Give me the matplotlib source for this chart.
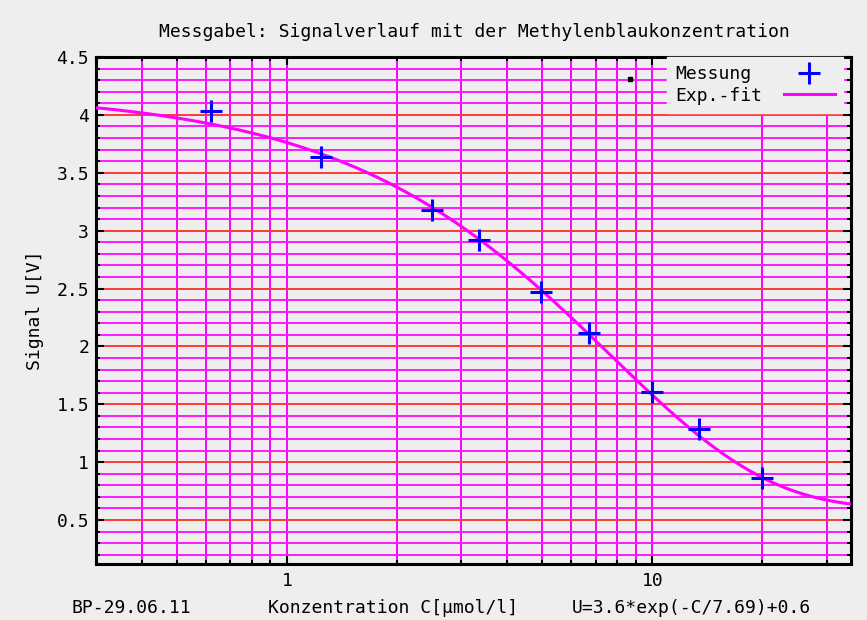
import matplotlib
matplotlib.use("Agg")
import matplotlib.pyplot as plt
from matplotlib.ticker import LogLocator, FixedLocator, MultipleLocator, FormatStrFormatter, NullFormatter
import numpy as np

# measured points
conc = [0.62, 1.24, 2.49, 3.35, 4.97, 6.73, 10.0, 13.4, 20.0]
signal = [4.03, 3.64, 3.18, 2.92, 2.47, 2.12, 1.61, 1.29, 0.86]

# fit parameters, U = a*exp(-C/tau) + u0
fit_a = 3.6
fit_tau = 7.69
fit_u0 = 0.6

title = "Messgabel: Signalverlauf mit der Methylenblaukonzentration"
xlabel = "Konzentration C[µmol/l]"
ylabel = "Signal U[V]"
note_left = "BP-29.06.11"
note_right = "U=3.6*exp(-C/7.69)+0.6"

bg = "#eeeeee"
font = "DejaVu Sans Mono"
fs = 13

fig = plt.figure(figsize=(8.67, 6.2), dpi=100, facecolor=bg)
ax = fig.add_axes([0.1107, 0.0903, 0.8708, 0.8177])
ax.set_facecolor(bg)

ax.set_xscale("log")
ax.set_xlim(0.3, 35)
ax.set_ylim(0.12, 4.5)

# grid
ax.yaxis.set_major_locator(MultipleLocator(0.5))
ax.yaxis.set_minor_locator(MultipleLocator(0.1))
ax.yaxis.set_major_formatter(FormatStrFormatter("%g"))
ax.xaxis.set_major_locator(FixedLocator([1, 10]))
ax.xaxis.set_minor_locator(LogLocator(base=10, subs=np.arange(2, 10)))
ax.xaxis.set_major_formatter(FormatStrFormatter("%g"))
ax.xaxis.set_minor_formatter(NullFormatter())

ax.grid(True, axis="y", which="minor", color="#ff1aff", lw=1.4, zorder=0)
ax.grid(True, axis="y", which="major", color="#ff3a3a", lw=1.4, zorder=0)
ax.grid(True, axis="x", which="both", color="#ff00ff", lw=1.4, zorder=0)
ax.set_axisbelow(True)

ax.tick_params(which="both", direction="in", top=True, right=True,
               color="black", labelsize=fs, labelfontfamily=font)
ax.tick_params(which="major", length=6, width=1.5)
ax.tick_params(which="minor", length=3, width=1.5)
ax.tick_params(axis="x", which="major", pad=6)
ax.tick_params(axis="y", which="major", pad=5)
for s in ax.spines.values():
    s.set_linewidth(2.2)
    s.set_color("black")

cc = np.logspace(np.log10(0.3), np.log10(35), 300)
uu = fit_a * np.exp(-cc / fit_tau) + fit_u0
ax.plot(conc, signal, linestyle="none", marker="+", ms=16, mew=2.2,
        color="#0000ff", label="Messung", zorder=4)
ax.plot(cc, uu, color="#ff00ff", lw=2.2, label="Exp.-fit", zorder=3)
ax.plot([8.71], [4.31], marker="s", ms=2.5, color="black", linestyle="none")

leg = ax.legend(loc="upper right", bbox_to_anchor=(0.989, 1.0),
                markerfirst=False, frameon=True,
                facecolor=bg, edgecolor=bg, framealpha=1, fancybox=False,
                borderaxespad=0.0, handlelength=2.8, handletextpad=1.2,
                borderpad=0.45, labelspacing=0.2,
                prop={"family": font, "size": fs})
leg.set_zorder(5)

# left-align the legend labels (gnuplot style): pad the shorter row
char_w = 0.602 * fs
for col in leg._legend_handle_box.get_children():
    col.align = "left"
    rows = col.get_children()
    labels = leg.get_texts()
    longest = max(len(t.get_text()) for t in labels)
    for row, t in zip(rows, labels):
        row.sep += (longest - len(t.get_text())) * char_w

fig.text(0.547, 0.948, title, ha="center", va="center", fontsize=fs, family=font)
fig.text(0.309, 0.02, xlabel, ha="left", va="center", fontsize=fs, family=font)
fig.text(0.083, 0.02, note_left, ha="left", va="center", fontsize=fs, family=font)
fig.text(0.66, 0.02, note_right, ha="left", va="center", fontsize=fs, family=font)
fig.text(0.04, 0.5, ylabel, ha="center", va="center", rotation=90, fontsize=fs, family=font)

fig.savefig("out.png", dpi=100, facecolor=bg)
